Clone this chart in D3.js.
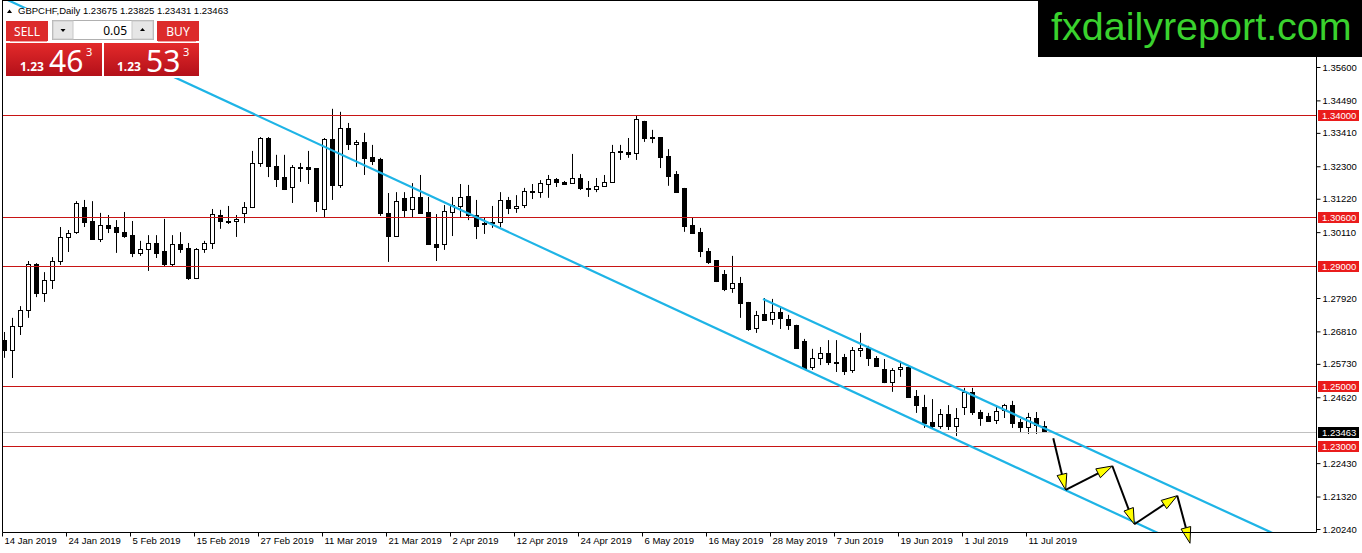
<!DOCTYPE html>
<html>
<head>
<meta charset="utf-8">
<script src="https://cdn.jsdelivr.net/npm/d3@7"></script>
<style>
  body { margin: 0; background: #fff; }
  svg { display: block; }
</style>
</head>
<body>
<div id="chart"></div>
<script>
// GBPCHF daily bars, 14 Jan 2019 .. 15 Jul 2019 (one entry per trading day)
const open = [
  1.2652,1.2619,1.2699,1.2752,1.2905,1.2809,1.2852,1.2915,1.2995,1.3011,
  1.3095,1.3048,1.2988,1.3035,1.3028,1.3011,1.3001,1.2942,1.2955,1.2975,
  1.2948,1.2905,1.2971,1.2958,1.2859,1.2955,1.2975,1.3068,1.3048,1.3048,
  1.3075,1.3095,1.3241,1.3324,1.3231,1.3194,1.3161,1.3228,1.3228,1.3224,
  1.3088,1.3321,1.3168,1.3357,1.3304,1.3311,1.3261,1.3254,1.3075,1.2998,
  1.3125,1.3088,1.3128,1.3078,1.2971,1.2971,1.3078,1.3098,1.3131,1.3068,
  1.3041,1.3045,1.3045,1.3118,1.3091,1.3101,1.3148,1.3144,1.3171,1.3188,
  1.3178,1.3174,1.3191,1.3158,1.3155,1.3164,1.3178,1.3281,1.3278,1.3274,
  1.3381,1.3327,1.3327,1.3264,1.3204,1.3158,1.3035,1.3011,1.2948,1.2918,
  1.2872,1.2825,1.2842,1.2779,1.2693,1.2739,1.2722,1.2746,1.2722,1.2703,
  1.2649,1.2563,1.2593,1.2609,1.2579,1.2596,1.2553,1.2619,1.2626,1.2593,
  1.2556,1.2513,1.2556,1.2563,1.2466,1.2430,1.2380,1.2367,1.2406,1.2367,
  1.2430,1.2480,1.2413,1.2400,1.2386,1.2420,1.2436,1.2380,1.2363,1.2393,
  1.23675];
const high = [
  1.2679,1.2726,1.2765,1.2915,1.2908,1.2878,1.2928,1.3028,1.3018,1.3114,
  1.3118,1.3114,1.3075,1.3068,1.3051,1.3078,1.3048,1.2982,1.3001,1.3001,
  1.3055,1.3001,1.3011,1.2975,1.2958,1.2982,1.3088,1.3085,1.3098,1.3068,
  1.3111,1.3281,1.3327,1.3327,1.3268,1.3268,1.3234,1.3241,1.3281,1.3224,
  1.3324,1.3421,1.3411,1.3374,1.3317,1.3341,1.3301,1.3258,1.3141,1.3144,
  1.3144,1.3174,1.3201,1.3128,1.3071,1.3101,1.3128,1.3171,1.3168,1.3118,
  1.3061,1.3098,1.3144,1.3128,1.3134,1.3158,1.3171,1.3184,1.3201,1.3191,
  1.3181,1.3271,1.3204,1.3181,1.3191,1.3201,1.3301,1.3301,1.3324,1.3397,
  1.3381,1.3351,1.3327,1.3287,1.3214,1.3158,1.3058,1.3025,1.2958,1.2918,
  1.2885,1.2932,1.2862,1.2779,1.2749,1.2792,1.2789,1.2762,1.2736,1.2703,
  1.2656,1.2623,1.2629,1.2652,1.2652,1.2606,1.2629,1.2676,1.2633,1.2599,
  1.2589,1.2559,1.2583,1.2566,1.2486,1.2470,1.2456,1.2423,1.2436,1.2426,
  1.2493,1.2493,1.2420,1.2410,1.2433,1.2440,1.2450,1.2390,1.2410,1.2413,
  1.23825];
const low = [
  1.2593,1.2526,1.2669,1.2726,1.2795,1.2779,1.2822,1.2902,1.2945,1.3005,
  1.3028,1.2985,1.2978,1.3008,1.2942,1.2992,1.2928,1.2932,1.2882,1.2925,
  1.2898,1.2895,1.2942,1.2852,1.2855,1.2942,1.2955,1.3022,1.3038,1.2995,
  1.3041,1.3091,1.3228,1.3194,1.3161,1.3151,1.3108,1.3178,1.3171,1.3078,
  1.3061,1.3118,1.3158,1.3284,1.3228,1.3201,1.3234,1.3065,1.2912,1.2995,
  1.3058,1.3061,1.3075,1.2971,1.2915,1.2952,1.2998,1.3061,1.3051,1.2988,
  1.3005,1.3025,1.3028,1.3071,1.3075,1.3091,1.3121,1.3125,1.3125,1.3161,
  1.3168,1.3171,1.3151,1.3128,1.3144,1.3161,1.3178,1.3251,1.3258,1.3251,
  1.3311,1.3307,1.3224,1.3165,1.3141,1.3012,1.3008,1.2928,1.2905,1.2845,
  1.2815,1.2809,1.2726,1.2683,1.2676,1.2716,1.2703,1.2689,1.2686,1.2623,
  1.2556,1.2553,1.2569,1.2569,1.2546,1.2536,1.2543,1.2596,1.2566,1.2563,
  1.2509,1.2480,1.2530,1.2463,1.2410,1.2360,1.2357,1.2357,1.2353,1.2333,
  1.2403,1.2403,1.2367,1.2380,1.2373,1.2393,1.2360,1.2343,1.2340,1.2340,
  1.23431];
const close = [
  1.2619,1.2699,1.2752,1.2905,1.2809,1.2852,1.2915,1.2995,1.3008,1.3108,
  1.3045,1.2988,1.3035,1.3025,1.3011,1.2998,1.2942,1.2955,1.2975,1.2942,
  1.2905,1.2971,1.2955,1.2859,1.2955,1.2975,1.3071,1.3048,1.3045,1.3055,
  1.3095,1.3241,1.3324,1.3231,1.3188,1.3155,1.3228,1.3224,1.3221,1.3115,
  1.3321,1.3168,1.3357,1.3304,1.3312,1.3258,1.3248,1.3075,1.2998,1.3114,
  1.3085,1.3128,1.3075,1.2971,1.2962,1.3081,1.3101,1.3128,1.3068,1.3031,
  1.3038,1.3041,1.3118,1.3091,1.3098,1.3148,1.3144,1.3174,1.3188,1.3178,
  1.3171,1.3191,1.3158,1.3155,1.3164,1.3178,1.3278,1.3278,1.3271,1.3387,
  1.3324,1.3324,1.3261,1.3198,1.3144,1.3032,1.3008,1.2948,1.2912,1.2849,
  1.2822,1.2842,1.2776,1.2689,1.2736,1.2719,1.2746,1.2726,1.2703,1.2626,
  1.2560,1.2593,1.2609,1.2579,1.2576,1.2550,1.2619,1.2626,1.2593,1.2566,
  1.2513,1.2553,1.2563,1.2463,1.2436,1.2377,1.2367,1.2406,1.2367,1.2393,
  1.2480,1.2413,1.2393,1.2383,1.2416,1.2436,1.2377,1.2363,1.2396,1.2370,
  1.23463];

// time axis: bar number of each date label
const tickBars = [0, 8, 16, 24, 32, 40, 48, 56, 64, 72, 80, 88, 96, 104, 112, 120, 128];
const tickLabels = ["14 Jan 2019", "24 Jan 2019", "5 Feb 2019", "15 Feb 2019", "27 Feb 2019",
  "11 Mar 2019", "21 Mar 2019", "2 Apr 2019", "12 Apr 2019", "24 Apr 2019", "6 May 2019",
  "16 May 2019", "28 May 2019", "7 Jun 2019", "19 Jun 2019", "1 Jul 2019", "11 Jul 2019"];

// price axis
const priceTicks = [1.356, 1.3449, 1.3341, 1.323, 1.3122, 1.3011, 1.2792, 1.2681, 1.2573, 1.2462, 1.2243, 1.2132, 1.2024];
const levels = [1.34, 1.306, 1.29, 1.25, 1.23];
const lastPrice = 1.23463;

// drawn objects: [bar, price]
const channelLower = [[-2, 1.3813], [146, 1.1989]];
const channelUpper = [[94.875, 1.2789], [160, 1.1993]];
const forecastPath = [[131.16, 1.23256], [132.71, 1.21538], [138.54, 1.22335],
  [141.29, 1.20397], [146.66, 1.21348], [148.25, 1.19766]];

const width = 1362, height = 553;
const plot = { left: 2, right: 1316, top: 1, bottom: 532 };
const axisFont = "Liberation Sans, Arial, sans-serif";
const uiFont = "Noto Sans, sans-serif";

const svg = d3.select("#chart").append("svg")
  .attr("width", width)
  .attr("height", height);

const xScale = d3.scaleLinear().domain([0, 130]).range([4, 1044]);
const yScale = d3.scaleLinear().domain([1.2024, 1.356]).range([529, 67]);

const defs = svg.append("defs");
defs.append("clipPath").attr("id", "plotclip")
  .append("rect")
  .attr("x", plot.left).attr("y", plot.top)
  .attr("width", plot.right - plot.left).attr("height", plot.bottom - plot.top);

// candles
const bars = d3.range(open.length).map(i => ({ i, o: open[i], h: high[i], l: low[i], c: close[i] }));
const candles = svg.append("g").attr("clip-path", "url(#plotclip)");

candles.selectAll("line.wick")
  .data(bars)
  .enter()
  .append("line")
  .attr("class", "wick")
  .attr("x1", d => Math.round(xScale(d.i)) + 0.5)
  .attr("x2", d => Math.round(xScale(d.i)) + 0.5)
  .attr("y1", d => yScale(d.h))
  .attr("y2", d => yScale(d.l))
  .attr("stroke", "#000")
  .attr("stroke-width", 1);

candles.selectAll("rect.body")
  .data(bars)
  .enter()
  .append("rect")
  .attr("class", "body")
  .attr("x", d => Math.round(xScale(d.i)) - 1.5)
  .attr("y", d => Math.round(yScale(Math.max(d.o, d.c))) + 0.5)
  .attr("width", 4)
  .attr("height", d => Math.max(1, Math.round(Math.abs(yScale(d.o) - yScale(d.c)))))
  .attr("fill", d => d.c >= d.o ? "#fff" : "#000")
  .attr("stroke", "#000")
  .attr("stroke-width", 1);

// horizontal levels
svg.append("g").selectAll("line")
  .data(levels)
  .enter()
  .append("line")
  .attr("x1", plot.left).attr("x2", plot.right)
  .attr("y1", d => Math.round(yScale(d)) + 0.5)
  .attr("y2", d => Math.round(yScale(d)) + 0.5)
  .attr("stroke", "#c81414")
  .attr("stroke-width", 1);

svg.append("line")
  .attr("x1", plot.left).attr("x2", plot.right)
  .attr("y1", Math.round(yScale(lastPrice)) + 0.5)
  .attr("y2", Math.round(yScale(lastPrice)) + 0.5)
  .attr("stroke", "#c0c0c0");

// channel lines
const lineGen = d3.line().x(d => xScale(d[0])).y(d => yScale(d[1]));
svg.append("g").attr("clip-path", "url(#plotclip)")
  .selectAll("path")
  .data([channelLower, channelUpper])
  .enter()
  .append("path")
  .attr("d", lineGen)
  .attr("fill", "none")
  .attr("stroke", "#1eb4e6")
  .attr("stroke-width", 2.2);

// forecast arrows
const arrows = svg.append("g");
const pts = forecastPath.map(p => [xScale(p[0]), yScale(p[1])]);
for (let k = 1; k < pts.length; k++) {
  const [x0, y0] = pts[k - 1];
  const [x1, y1] = pts[k];
  const len = Math.hypot(x1 - x0, y1 - y0);
  const ux = (x1 - x0) / len, uy = (y1 - y0) / len;
  const bx = x1 - ux * 16, by = y1 - uy * 16;
  arrows.append("line")
    .attr("x1", x0).attr("y1", y0).attr("x2", bx).attr("y2", by)
    .attr("stroke", "#000").attr("stroke-width", 2);
  arrows.append("polygon")
    .attr("points", [[x1, y1], [bx - uy * 5, by + ux * 5], [bx + uy * 5, by - ux * 5]].map(p => p.join(",")).join(" "))
    .attr("fill", "#ffff00")
    .attr("stroke", "#000")
    .attr("stroke-width", 1);
}

// frame
svg.append("path")
  .attr("d", `M${plot.left + 0.5},${plot.top - 0.5}V${plot.bottom + 0.5}H${plot.right + 0.5}V0`)
  .attr("fill", "none").attr("stroke", "#000");
svg.append("line")
  .attr("x1", plot.left).attr("x2", plot.right)
  .attr("y1", 0.5).attr("y2", 0.5).attr("stroke", "#000");

// price axis
const yAxis = svg.append("g")
  .attr("transform", `translate(${plot.right + 0.5},0)`)
  .call(d3.axisRight(yScale).tickValues(priceTicks).tickSize(4).tickPadding(2).tickFormat(d3.format(".5f")));
yAxis.select(".domain").remove();
yAxis.selectAll("text").attr("font-family", axisFont).attr("font-size", 9.5).attr("fill", "#000");

const priceTags = svg.append("g");
const tags = levels.map(v => ({ v, bg: "#ea1c1c" })).concat([{ v: lastPrice, bg: "#000" }]);
priceTags.selectAll("rect")
  .data(tags)
  .enter()
  .append("rect")
  .attr("x", plot.right + 2)
  .attr("y", d => Math.round(yScale(d.v)) - 5)
  .attr("width", 41)
  .attr("height", 11)
  .attr("fill", d => d.bg);
priceTags.selectAll("text")
  .data(tags)
  .enter()
  .append("text")
  .attr("x", plot.right + 6)
  .attr("y", d => Math.round(yScale(d.v)) + 4)
  .attr("font-family", axisFont)
  .attr("font-size", 9.5)
  .attr("fill", "#fff")
  .text(d => d3.format(".5f")(d.v));

// time axis
const xAxis = svg.append("g")
  .attr("transform", `translate(-2,${plot.bottom + 0.5})`)
  .call(d3.axisBottom(xScale).tickValues(tickBars).tickSize(4).tickFormat((d, i) => tickLabels[i]));
xAxis.select(".domain").remove();
xAxis.selectAll("text")
  .attr("text-anchor", "start")
  .attr("x", 2)
  .attr("y", 5)
  .attr("font-family", axisFont)
  .attr("font-size", 9.5)
  .attr("fill", "#000");

// header line
svg.append("rect").attr("x", 5).attr("y", 8).attr("width", 226).attr("height", 11).attr("fill", "#fff");
svg.append("polygon").attr("points", "7,13 9.5,9.5 12,13").attr("fill", "#000");
svg.append("text")
  .attr("x", 18).attr("y", 14)
  .attr("font-family", axisFont).attr("font-size", 9.5)
  .text("GBPCHF,Daily  1.23675 1.23825 1.23431 1.23463");

// one-click trading panel
const panel = svg.append("g");
const grad = defs.append("linearGradient").attr("id", "quote").attr("x1", 0).attr("y1", 0).attr("x2", 0).attr("y2", 1);
grad.append("stop").attr("offset", 0).attr("stop-color", "#e42a2a");
grad.append("stop").attr("offset", 1).attr("stop-color", "#b3101a");
panel.append("rect").attr("x", 5).attr("y", 19).attr("width", 196).attr("height", 59).attr("fill", "#fff");
panel.append("rect").attr("x", 6).attr("y", 21).attr("width", 42).attr("height", 20).attr("fill", "#dc2b2b");
panel.append("rect").attr("x", 157).attr("y", 21).attr("width", 42).attr("height", 20).attr("fill", "#dc2b2b");
panel.append("line").attr("x1", 10).attr("x2", 47).attr("y1", 41.5).attr("y2", 41.5).attr("stroke", "#f4a0a0");
panel.append("line").attr("x1", 158).attr("x2", 196).attr("y1", 41.5).attr("y2", 41.5).attr("stroke", "#f4a0a0");
panel.append("text").attr("x", 27).attr("y", 36).attr("text-anchor", "middle")
  .attr("font-family", uiFont).attr("font-size", 12).attr("fill", "#fff").text("SELL");
panel.append("text").attr("x", 178).attr("y", 36).attr("text-anchor", "middle")
  .attr("font-family", uiFont).attr("font-size", 12).attr("fill", "#fff").text("BUY");

panel.append("rect").attr("x", 52.5).attr("y", 20.5).attr("width", 101).attr("height", 19).attr("fill", "#fff").attr("stroke", "#b0b0b0");
panel.append("rect").attr("x", 53).attr("y", 21).attr("width", 20).attr("height", 18).attr("fill", "#e6e6e6").attr("stroke", "#c8c8c8");
panel.append("rect").attr("x", 132).attr("y", 21).attr("width", 21).attr("height", 18).attr("fill", "#e6e6e6").attr("stroke", "#c8c8c8");
panel.append("polygon").attr("points", "60.5,29 65.5,29 63,32").attr("fill", "#000");
panel.append("polygon").attr("points", "140,31 145,31 142.5,28").attr("fill", "#000");
panel.append("text").attr("x", 127).attr("y", 35).attr("text-anchor", "end")
  .attr("font-family", uiFont).attr("font-size", 12).attr("fill", "#000").text("0.05");

const quotes = [
  { x: 6, w: 96, small: "1.23", big: "46", sup: "3", sx: 20, bx: 49, px: 86 },
  { x: 104, w: 95, small: "1.23", big: "53", sup: "3", sx: 117, bx: 146, px: 183 }
];
quotes.forEach(q => {
  panel.append("rect").attr("x", q.x).attr("y", 43).attr("width", q.w).attr("height", 33).attr("fill", "url(#quote)");
  panel.append("text").attr("x", q.sx).attr("y", 71).attr("font-family", uiFont)
    .attr("font-size", 12).attr("font-weight", "bold").attr("fill", "#fff").text(q.small);
  panel.append("text").attr("x", q.bx).attr("y", 72).attr("font-family", uiFont)
    .attr("font-size", 30).attr("fill", "#fff").text(q.big);
  panel.append("text").attr("x", q.px).attr("y", 56).attr("font-family", uiFont)
    .attr("font-size", 11).attr("fill", "#fff").text(q.sup);
});

// logo
svg.append("rect").attr("x", 1038).attr("y", 0).attr("width", 324).attr("height", 57).attr("fill", "#000");
svg.append("text")
  .attr("x", 1051).attr("y", 40)
  .attr("font-family", "Liberation Sans, Arial, sans-serif")
  .attr("font-size", 39.5)
  .attr("fill", "#3ad22e")
  .text("fxdailyreport.com");
</script>
</body>
</html>
